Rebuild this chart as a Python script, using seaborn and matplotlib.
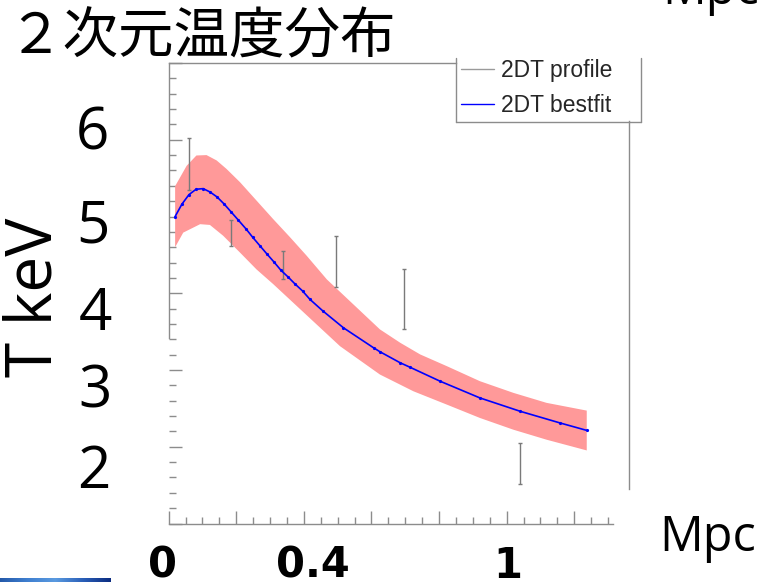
import numpy as np
import matplotlib
matplotlib.use("Agg")
import matplotlib.pyplot as plt
from matplotlib.lines import Line2D
from matplotlib.ticker import FixedLocator, MultipleLocator
from matplotlib.colors import LinearSegmentedColormap
import seaborn as sns

# Best-fit 2D temperature profile: radius (Mpc) and temperature (keV)
fit_r = [0.019, 0.039, 0.060, 0.081, 0.102, 0.122, 0.143, 0.164, 0.184, 0.205,
         0.229, 0.248, 0.270, 0.291, 0.312, 0.332, 0.353, 0.374, 0.396, 0.418,
         0.456, 0.517, 0.606, 0.625, 0.685, 0.714, 0.803, 0.921, 1.040, 1.158, 1.237]
fit_T = [5.00, 5.16, 5.285, 5.355, 5.363, 5.32, 5.255, 5.163, 5.063, 4.958,
         4.837, 4.732, 4.618, 4.51, 4.405, 4.30, 4.213, 4.12, 4.03, 3.92,
         3.77, 3.55, 3.29, 3.238, 3.094, 3.036, 2.854, 2.636, 2.462, 2.31, 2.213]

# Upper and lower edges of the fit uncertainty envelope
band_hi_r = [0.019, 0.053, 0.082, 0.112, 0.142, 0.171, 0.211, 0.260, 0.309, 0.359,
             0.408, 0.468, 0.625, 0.685, 0.744, 0.823, 0.921, 1.020, 1.118, 1.237]
band_hi_T = [5.395, 5.66, 5.795, 5.80, 5.73, 5.62, 5.447, 5.207, 4.967, 4.73,
             4.49, 4.18, 3.529, 3.355, 3.203, 3.05, 2.854, 2.702, 2.572, 2.471]
band_lo_r = [0.019, 0.043, 0.093, 0.122, 0.161, 0.211, 0.260, 0.309, 0.507, 0.625,
             0.724, 0.823, 0.921, 1.020, 1.118, 1.237]
band_lo_T = [4.60, 4.79, 4.90, 4.89, 4.75, 4.53, 4.31, 4.12, 3.31, 2.941,
             2.723, 2.549, 2.375, 2.222, 2.092, 1.952]

# Measured 2D temperature profile with 1-sigma errors
prof_r = [0.061, 0.184, 0.3395, 0.495, 0.695, 1.038]
prof_T = [5.68, 4.78, 4.37, 4.41, 3.92, 1.785]
prof_err = [0.34, 0.17, 0.18, 0.33, 0.39, 0.265]

title = "２次元温度分布"
y_labels = ["6", "5", "4", "3", "2"]
x_labels = ["0", "0.4", "1"]
legend_labels = ["2DT profile", "2DT bestfit"]
unit_x = "Mpc"
unit_y = "T keV"

sns.set_theme(style="white")
plt.rcParams["font.family"] = ["DejaVu Sans"]

W, H = 770, 582
fig = plt.figure(figsize=(W / 100, H / 100), dpi=100)
fig.patch.set_facecolor("white")


def fx(px):
    return px / W


def fy(py):
    return 1 - py / H


grey = "#8c8c8c"

ax = fig.add_axes([fx(168.7), fy(523.5), (629 - 168.7) / W, (523.5 - 63) / H])
ax.set_facecolor("none")
ax.set_xlim(0, 1.362)
ax.set_ylim(1, 7)

# uncertainty envelope
ax.fill(np.r_[band_hi_r, band_lo_r[::-1]], np.r_[band_hi_T, band_lo_T[::-1]],
        color="#ff9999", lw=0, zorder=1)

# measured profile
ax.errorbar(prof_r, prof_T, yerr=prof_err, fmt="none", ecolor="#7a7a7a",
            elinewidth=1, capsize=1.5, capthick=1, zorder=2)

# best fit
sns.lineplot(x=fit_r, y=fit_T, ax=ax, color="#0000ff", lw=1.2, marker="o",
             markersize=2.3, markeredgewidth=0, zorder=3, legend=False)

ax.set_xlabel("")
ax.set_ylabel("")

# axis ticks (inward, no numbers on the frame)
ax.xaxis.set_major_locator(FixedLocator(np.arange(0, 1.21, 0.2)))
ax.xaxis.set_minor_locator(FixedLocator(np.arange(0.05, 1.31, 0.05)))
ax.yaxis.set_major_locator(MultipleLocator(1))
ax.yaxis.set_minor_locator(MultipleLocator(0.2))
ax.tick_params(which="both", direction="in", colors=grey, width=1,
               labelbottom=False, labelleft=False,
               bottom=True, left=True, top=False, right=False)
ax.tick_params(which="major", length=9.5)
ax.tick_params(which="minor", length=4.8)

for s in ax.spines.values():
    s.set_color(grey)
    s.set_linewidth(1)
ax.spines["top"].set_bounds(0, 0.850)
ax.spines["right"].set_bounds(1.45, 6.25)
ax.spines["bottom"].set_bounds(0, 1.314)
ax.spines["left"].set_bounds(3.42, 7)

# legend box (open at the top)
for xs, ys in [((456, 456), (58, 122)), ((456, 641), (122, 122)), ((641, 641), (58, 122))]:
    fig.add_artist(Line2D([fx(v) for v in xs], [fy(v) for v in ys], color=grey, lw=1))

handles = [Line2D([], [], color="#9a9a9a", lw=1), Line2D([], [], color="#0000ff", lw=1)]
ax.legend(handles, legend_labels, loc="upper left",
          bbox_to_anchor=(fx(461), fy(59)), bbox_transform=fig.transFigure,
          frameon=False, borderpad=0, borderaxespad=0, handlelength=1.45,
          handletextpad=0.3, labelspacing=0.52,
          prop={"family": "Liberation Sans", "size": 16.5})

# title
fig.text(fx(201), fy(53), title, ha="center", va="baseline", fontsize=40,
         family=["Noto Sans CJK JP", "DejaVu Sans"], color="black")

# temperature labels
y_label_x = [92, 93, 95, 95, 94]
y_label_base = [150, 242, 330, 408, 488]
for lab, px, py in zip(y_labels, y_label_x, y_label_base):
    fig.text(fx(px), fy(py), lab, ha="center", va="baseline", fontsize=42,
             family="Open Sans", color="black")

# radius labels
x_label_x = [163, 313, 508]
for lab, px in zip(x_labels, x_label_x):
    fig.text(fx(px), fy(578), lab, ha="center", va="baseline", fontsize=30,
             fontweight="bold", family="DejaVu Sans", color="black")

# axis units
fig.text(fx(52), fy(377), unit_y, rotation=90, rotation_mode="anchor",
         ha="left", va="baseline", fontsize=46, family="Open Sans", color="black")
fig.text(fx(659), fy(551), unit_x, ha="left", va="baseline", fontsize=35,
         family="Open Sans", color="black")
fig.text(fx(662), fy(4), unit_x, ha="left", va="baseline", fontsize=35,
         family="Open Sans", color="black")

# strip of blue slide background at the lower left
gax = fig.add_axes([0, 0, fx(110.7), 4.5 / H])
cmap = LinearSegmentedColormap.from_list(
    "strip", ["#2459a9", "#3f7fd0", "#5a9ae0", "#2a5fb8", "#0c2c80"])
gax.imshow(np.linspace(0, 1, 256)[None, :], aspect="auto", cmap=cmap)
gax.axis("off")

fig.savefig("out.png", dpi=100)
